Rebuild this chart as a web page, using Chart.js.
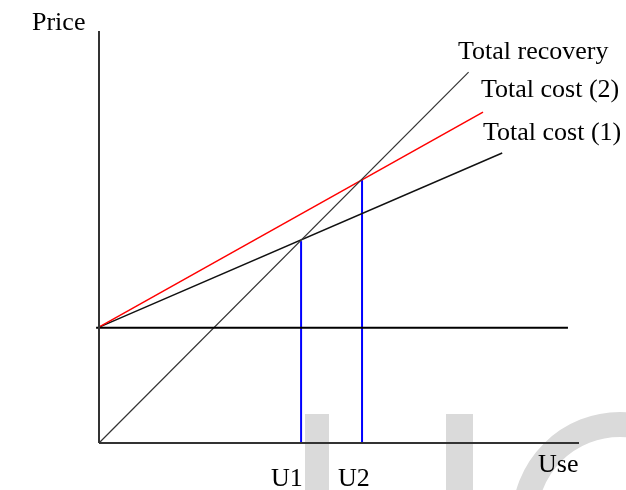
<!DOCTYPE html>
<html>
<head>
<meta charset="utf-8">
<script src="https://cdn.jsdelivr.net/npm/chart.js@4.4.1/dist/chart.umd.min.js"></script>
<style>
  html, body { margin: 0; padding: 0; background: #ffffff; }
  #wrap { position: relative; width: 626px; height: 490px; }
</style>
</head>
<body>
<div id="wrap"><canvas id="c" width="626" height="490"></canvas></div>
<script>
// ---- data (arbitrary "Use" / "Price" units, origin at the axes' corner) ----
const axisX          = [{x: 0, y: 0}, {x: 100, y: 0}];
const axisY          = [{x: 0, y: 0}, {x: 0, y: 100}];
const fixedCostLevel = [{x: -0.6, y: 28}, {x: 97.7, y: 28}];
const totalRecovery  = [{x: 0, y: 0}, {x: 77, y: 90}];
const totalCost2     = [{x: -0.2, y: 28}, {x: 80, y: 80.3}];
const totalCost1     = [{x: -0.2, y: 28}, {x: 84, y: 70.4}];
const useU1          = [{x: 42.1, y: 0}, {x: 42.1, y: 49}];
const useU2          = [{x: 54.8, y: 0}, {x: 54.8, y: 64}];
const seriesNames    = ["Total recovery", "Total cost (2)", "Total cost (1)"];
const tickNames      = ["U1", "U2"];
const axisNames      = ["Price", "Use"];

const FONT = '26px "Liberation Serif", "Times New Roman", serif';

const watermark = {
  id: 'watermark',
  beforeDraw(chart) {
    const ctx = chart.ctx;
    ctx.save();
    ctx.fillStyle = '#dadada';
    ctx.strokeStyle = '#dadada';
    ctx.fillRect(305, 414, 24, 80);
    ctx.fillRect(446, 414, 27, 80);
    ctx.lineWidth = 25;
    ctx.beginPath();
    ctx.arc(620, 520, 95.5, 0, Math.PI * 2);
    ctx.stroke();
    ctx.restore();
  }
};

const texts = {
  id: 'texts',
  afterDraw(chart) {
    const ctx = chart.ctx;
    ctx.save();
    ctx.font = FONT;
    ctx.fillStyle = '#000000';
    ctx.textBaseline = 'alphabetic';
    ctx.textAlign = 'left';
    ctx.fillText(axisNames[0], 32, 30);
    ctx.fillText(seriesNames[0], 458, 59);
    ctx.fillText(seriesNames[1], 481, 97);
    ctx.fillText(seriesNames[2], 483, 140);
    ctx.fillText(tickNames[0], 271, 486);
    ctx.fillText(tickNames[1], 338, 486);
    ctx.fillText(axisNames[1], 538, 472);
    ctx.restore();
  }
};

function ds(data, color, width) {
  return {
    data: data, borderColor: color, borderWidth: width,
    pointRadius: 0, pointHoverRadius: 0, tension: 0, fill: false, clip: false
  };
}

new Chart(document.getElementById('c'), {
  type: 'line',
  data: {
    datasets: [
      ds(axisX, '#333333', 2),
      ds(axisY, '#333333', 2),
      ds(fixedCostLevel, '#000000', 2),
      ds(totalRecovery, '#333333', 1.2),
      ds(totalCost2, '#ff0000', 1.5),
      ds(totalCost1, '#111111', 1.5),
      ds(useU1, '#0000ff', 2),
      ds(useU2, '#0000ff', 2)
    ]
  },
  options: {
    responsive: false,
    animation: false,
    events: [],
    layout: { padding: { left: 99, right: 47, top: 31, bottom: 47 } },
    plugins: { legend: { display: false }, tooltip: { enabled: false } },
    scales: {
      x: { type: 'linear', min: 0, max: 100, display: false },
      y: { type: 'linear', min: 0, max: 100, display: false }
    }
  },
  plugins: [watermark, texts]
});
</script>
</body>
</html>
